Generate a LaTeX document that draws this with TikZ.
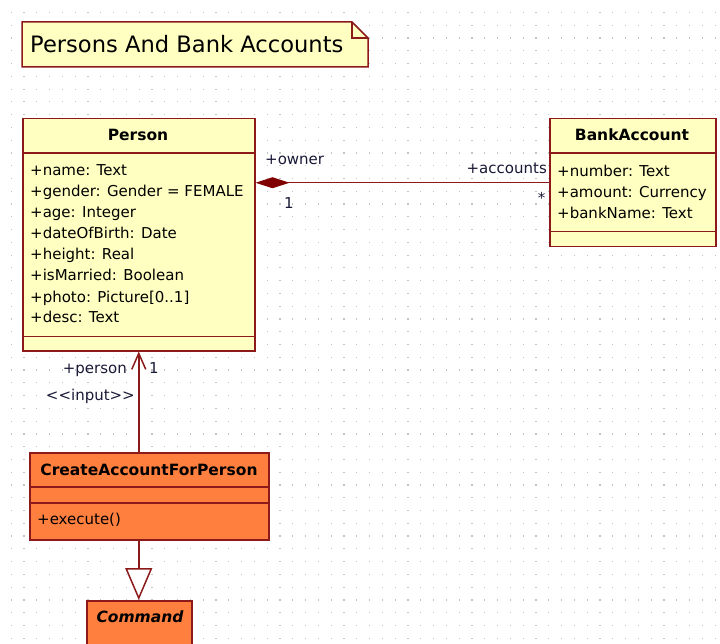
\documentclass[tikz,border=0pt]{standalone}
\usepackage{fontspec}
\setmainfont{DejaVu Sans}
\usetikzlibrary{arrows.meta}
\definecolor{umlline}{RGB}{140,26,26}
\definecolor{umldiamond}{RGB}{128,0,0}
\definecolor{umlyellow}{RGB}{255,255,194}
\definecolor{umlorange}{RGB}{255,127,63}
\definecolor{griddot}{RGB}{195,195,195}
\definecolor{labeltext}{RGB}{25,25,55}
\begin{document}
\begin{tikzpicture}[x=1pt,y=-1pt,
  font=\fontsize{15}{18}\selectfont,
  classbox/.style={draw=umlline, line width=1.5pt, rectangle, anchor=north west, inner sep=0pt},
  yclass/.style={classbox, fill=umlyellow},
  oclass/.style={classbox, fill=umlorange},
  sepline/.style={draw=umlline, line width=1.5pt},
  conn/.style={draw=umlline, line width=1.5pt},
  attr/.style={inner sep=0pt, anchor=base west, text=black},
  hdr/.style={inner sep=0pt, anchor=base, text=black, font=\fontsize{15.5}{18}\selectfont\bfseries},
  lbl/.style={inner sep=0pt, text=labeltext}]
\useasboundingbox (0,0) rectangle (720,644);
\clip (0,0) rectangle (720,644);
\fill[white] (0,0) rectangle (720,644);
% grid dots
\foreach \i in {0,...,56}{
  \foreach \j in {0,...,50}{
    \fill[griddot] (10.5+12.8*\i, 11.9+12.77*\j) rectangle ++(1.2,1.2);
  }
}
% note
\draw[umlline, line width=1.5pt, fill=umlyellow] (22,22) -- (352,22) -- (368,38) -- (368,67) -- (22,67) -- cycle;
\draw[umlline, line width=1.5pt] (352,22) -- (352,38) -- (368,38);
\node[inner sep=0pt, anchor=base west, font=\fontsize{22.6}{26}\selectfont] (title) at (30,53) {Persons And Bank Accounts};

% Person
\node[yclass, minimum width=232pt, minimum height=232pt] (person) at (22,118) {};
\draw[sepline] ([yshift=-35pt]person.north west) -- ([yshift=-35pt]person.north east);
\draw[sepline] ([yshift=15pt]person.south west) -- ([yshift=15pt]person.south east);
\node[hdr] (personname) at (138,141) {Person};
\foreach \t [count=\k] in {+name: Text,+gender: Gender = FEMALE,+age: Integer,+dateOfBirth: Date,+height: Real,+isMarried: Boolean,+photo: Picture[0..1],+desc: Text}{
  \node[attr] (pattr\k) at (30,176+21*\k-21) {\t};
}

% BankAccount
\node[yclass, minimum width=166pt, minimum height=128pt] (bank) at (549,118) {};
\draw[sepline] ([yshift=-35pt]bank.north west) -- ([yshift=-35pt]bank.north east);
\draw[sepline] ([yshift=16pt]bank.south west) -- ([yshift=16pt]bank.south east);
\node[hdr] (bankname) at (632,141) {BankAccount};
\foreach \t [count=\k] in {+number: Text,+amount: Currency,+bankName: Text}{
  \node[attr] (battr\k) at (557,176.5+20.8*\k-20.8) {\t};
}

% CreateAccountForPerson
\node[oclass, minimum width=239pt, minimum height=87pt] (create) at (29,452) {};
\draw[sepline] ([yshift=-35pt]create.north west) -- ([yshift=-35pt]create.north east);
\draw[sepline] ([yshift=-51pt]create.north west) -- ([yshift=-51pt]create.north east);
\node[hdr] (createname) at (149,475) {CreateAccountForPerson};
\node[attr] (createop) at (37,524) {+execute()};

% Command
\node[oclass, minimum width=105pt, minimum height=70pt] (command) at (86,600) {};
\node[hdr, font=\fontsize{15.5}{18}\selectfont\bfseries\itshape] (commandname) at (140,622) {Command};

% composition
\draw[conn, {Diamond[length=34pt,width=11pt,fill=umldiamond,color=umldiamond]}-] (person.north east |- bank.west) -- (bank.west);
\node[lbl, anchor=base west] (owner) at (265,165) {+owner};
\node[lbl, anchor=base] (ownermult) at (289,208.5) {1};
\node[lbl, anchor=base east] (accounts) at (547,173.3) {+accounts};
\node[lbl, anchor=center] (accmult) at (541.5,198) {*};

% association
\draw[conn, {Straight Barb[length=16pt,width=14pt,line width=1.5pt]}-] (person.south) -- (person.south |- create.north);
\node[lbl, anchor=base east] (personrole) at (127,373) {+person};
\node[lbl, anchor=base west] (personmult) at (149,373) {1};
\node[lbl, anchor=base east] (stereo) at (135,400) {<{}<input>{}>};

% generalization
\draw[conn, -{Triangle[length=32pt,width=27pt,fill=white]}] (person.south |- create.south) -- (person.south |- command.north);
\end{tikzpicture}
\end{document}
